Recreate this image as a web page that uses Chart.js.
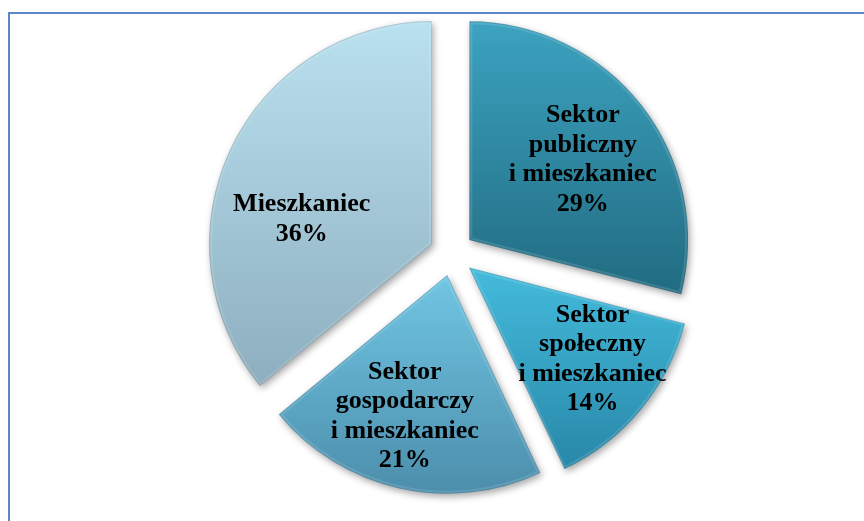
<!DOCTYPE html>
<html><head><meta charset="utf-8">
<script src="https://cdn.jsdelivr.net/npm/chart.js@4.4.0/dist/chart.umd.min.js"></script>
<style>
html,body{margin:0;padding:0;background:#fff;overflow:hidden}
#wrap{position:relative;width:864px;height:521px}
#frame{position:absolute;left:8px;top:12px;width:900px;height:600px;border-left:2px solid #5A88C6;border-top:2px solid #5A88C6;box-sizing:border-box}
canvas{position:absolute;left:0;top:0}
</style></head><body>
<div id="wrap"><div id="frame"></div><canvas id="c" width="864" height="521"></canvas></div>
<script>
// ---- data ----
const categories = [
  ["Sektor", "publiczny", "i mieszkaniec"],
  ["Sektor", "społeczny", "i mieszkaniec"],
  ["Sektor", "gospodarczy", "i mieszkaniec"],
  ["Mieszkaniec"]
];
const values = [29, 14, 21, 36];
const percentLabels = ["29%", "14%", "21%", "36%"];

// ---- styles ----
const topColors = ["#3CA3C0", "#44BBDC", "#70C6E3", "#BAE1EF"];
const bottomColors = ["#216B81", "#2887A8", "#4C8EAC", "#8DAEBE"];
const labelRadius = [0.635, 0.69, 0.675, 0.595];
const labelAngleShift = [2.6, -3.0, 4.1, -14.5];

// geometry of an arc as Chart.js v4 draws it (offset translation applied)
function geom(el) {
  const p = el.getProps(['x', 'y', 'startAngle', 'endAngle', 'outerRadius'], true);
  const off = (el.options.offset || 0) / 4;
  const half = (p.startAngle + p.endAngle) / 2;
  const fix = 1 - Math.sin(Math.min(Math.PI, p.endAngle - p.startAngle));
  return {
    x: p.x + Math.cos(half) * off,
    y: p.y + Math.sin(half) * off,
    r: p.outerRadius + off * fix,
    s: p.startAngle, e: p.endAngle
  };
}
function arcPath(ctx, g) {
  ctx.beginPath();
  ctx.moveTo(g.x, g.y);
  ctx.arc(g.x, g.y, g.r, g.s, g.e);
  ctx.closePath();
}

const stylePlugin = {
  id: 'styleArcs',
  beforeDatasetsDraw(chart) {
    const ctx = chart.ctx;
    const meta = chart.getDatasetMeta(0);
    meta.data.forEach((el, i) => {
      const g0 = geom(el);
      let yMin = g0.y, yMax = g0.y;
      for (let k = 0; k <= 40; k++) {
        const a = g0.s + (g0.e - g0.s) * k / 40;
        const yy = g0.y + Math.sin(a) * g0.r;
        yMin = Math.min(yMin, yy); yMax = Math.max(yMax, yy);
      }
      const dy = g0.y - el.y;
      const g = ctx.createLinearGradient(0, yMin - dy, 0, yMax - dy);
      g.addColorStop(0, topColors[i]);
      g.addColorStop(1, bottomColors[i]);
      el.options.backgroundColor = g;
    });
    ctx.save();
    ctx.shadowColor = 'rgba(0,0,0,0.35)';
    ctx.shadowBlur = 7;
    ctx.shadowOffsetX = 2;
    ctx.shadowOffsetY = 3;
  },
  afterDatasetsDraw(chart) {
    const ctx = chart.ctx;
    ctx.restore();
    const meta = chart.getDatasetMeta(0);
    meta.data.forEach((el) => {
      const g = geom(el);
      ctx.save();
      arcPath(ctx, g);
      ctx.clip();
      arcPath(ctx, g);
      ctx.lineJoin = 'round';
      ctx.lineWidth = 6;
      ctx.strokeStyle = 'rgba(255,255,255,0.12)';
      ctx.stroke();
      ctx.lineWidth = 2;
      ctx.strokeStyle = 'rgba(0,0,0,0.12)';
      ctx.stroke();
      ctx.restore();
    });
    meta.data.forEach((el, i) => {
      const g = geom(el);
      const mid = (g.s + g.e) / 2 + labelAngleShift[i] * Math.PI / 180;
      const cx = g.x + Math.cos(mid) * g.r * labelRadius[i];
      const cy = g.y + Math.sin(mid) * g.r * labelRadius[i];
      const lines = categories[i].concat([percentLabels[i]]);
      const lh = 29.5;
      ctx.save();
      ctx.font = 'bold 26px "Liberation Serif", "Times New Roman", serif';
      ctx.textAlign = 'center';
      ctx.textBaseline = 'middle';
      ctx.fillStyle = '#000';
      lines.forEach((t, j) => {
        ctx.fillText(t, cx, cy - (lines.length - 1) * lh / 2 + j * lh);
      });
      ctx.restore();
    });
  }
};

new Chart(document.getElementById('c'), {
  type: 'pie',
  data: {
    labels: categories.map(c => c.join(' ')),
    datasets: [{
      data: values,
      backgroundColor: topColors,
      borderWidth: 0,
      offset: 88,
      radius: 218
    }]
  },
  options: {
    responsive: false,
    animation: false,
    layout: { padding: { top: 0, bottom: 14, left: 60, right: 20 } },
    plugins: { legend: { display: false }, tooltip: { enabled: false } }
  },
  plugins: [stylePlugin]
});
</script>
</body></html>
